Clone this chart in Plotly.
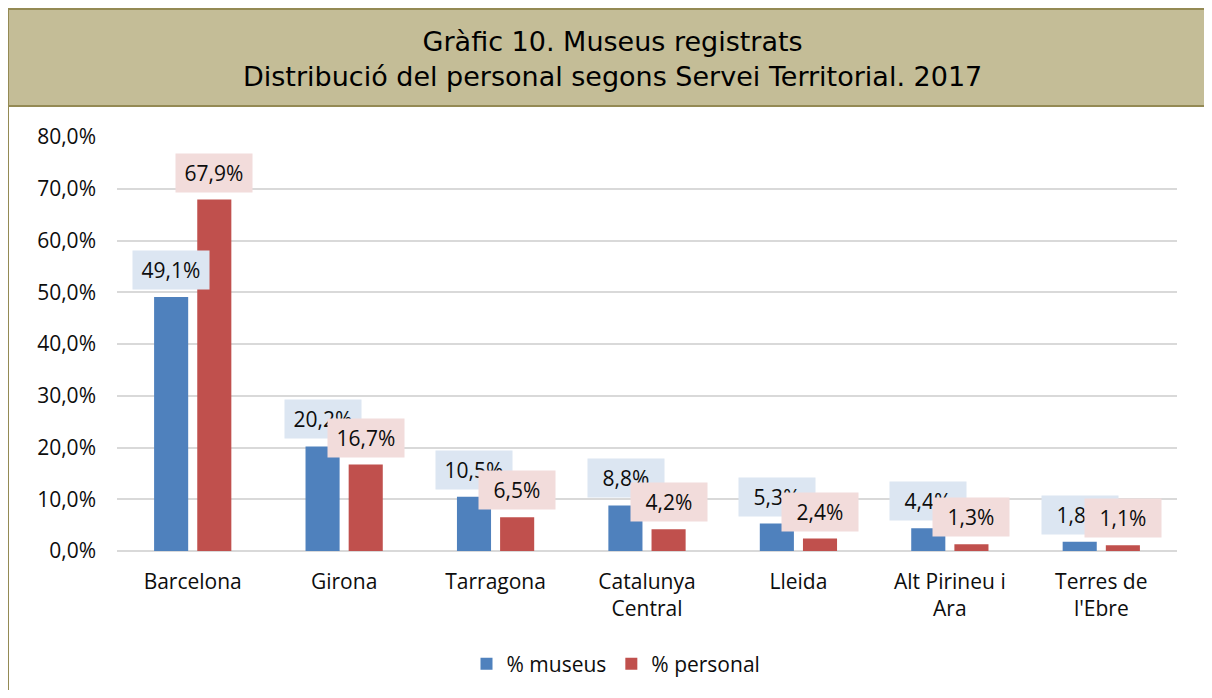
import plotly.graph_objects as go

categories = ["Barcelona", "Girona", "Tarragona", "Catalunya<br>Central", "Lleida", "Alt Pirineu i<br>Ara", "Terres de<br>l'Ebre"]
museus = [49.1, 20.2, 10.5, 8.8, 5.3, 4.4, 1.8]
personal = [67.9, 16.7, 6.5, 4.2, 2.4, 1.3, 1.1]
series_names = ["% museus", "% personal"]
title_lines = ["Gràfic 10. Museus registrats", "Distribució del personal segons Servei Territorial. 2017"]

BLUE = "#4F81BD"
RED = "#C0504D"
BLUE_BG = "#DCE6F2"
RED_BG = "#F2DCDB"
FRAME = "#948A54"
FILL = "#C4BD97"
FONT = "Open Sans"
TXT = "#0d0d0d"
FS = 21

OFF = 8  # page body margin
W, H = 1196, 682
L, R, T, B = 117 - OFF, 27, 137 - OFF, 139
pw, ph = W - L - R, H - T - B

def px_x(p):
    return (p - OFF - L) / pw

def px_y(p):
    return (H - B - (p - OFF)) / ph

fig = go.Figure()
fig.add_trace(go.Bar(x=categories, y=museus, name=series_names[0], marker=dict(color=BLUE, line=dict(width=0))))
fig.add_trace(go.Bar(x=categories, y=personal, name=series_names[1], marker=dict(color=RED, line=dict(width=0))))

def fmt(v):
    return f"{v:.1f}".replace(".", ",") + "%"

annotations = []
for vals, bg, shift in ((museus, BLUE_BG, -21.5), (personal, RED_BG, 21.5)):
    for c, v in zip(categories, vals):
        annotations.append(dict(
            x=c, y=v, xref="x", yref="y", text=fmt(v), showarrow=False,
            xshift=shift, yshift=7, yanchor="bottom", xanchor="center",
            bgcolor=bg, width=70, height=32, borderpad=3,
            font=dict(family=FONT, size=FS, color=TXT),
        ))

annotations.append(dict(
    x=px_x(612), y=px_y(59), xref="paper", yref="paper",
    text="<br>".join(title_lines), showarrow=False, xanchor="center", yanchor="middle",
    font=dict(family="DejaVu Sans", size=27, color="#000000"),
))

shapes = [
    dict(type="rect", xref="paper", yref="paper",
         x0=px_x(8), x1=px_x(1225), y0=px_y(106), y1=px_y(9),
         fillcolor=FILL, line=dict(color=FRAME, width=2), layer="below"),
    dict(type="line", xref="paper", yref="paper",
         x0=px_x(8), x1=px_x(8), y0=px_y(106), y1=px_y(710),
         line=dict(color=FRAME, width=2)),
]

fig.update_layout(
    width=W, height=H,
    margin=dict(l=L, r=R, t=T, b=B, pad=0, autoexpand=False),
    paper_bgcolor="white", plot_bgcolor="white",
    separators=",.",
    barmode="group", bargap=0.43, bargroupgap=0.21,
    font=dict(family=FONT, size=FS, color=TXT),
    showlegend=True,
    legend=dict(orientation="h", x=px_x(616), xanchor="center", y=px_y(664), yanchor="middle",
                font=dict(family=FONT, size=FS, color=TXT), itemwidth=30,
                traceorder="normal"),
    annotations=annotations,
    shapes=shapes,
)
fig.update_yaxes(range=[0, 80], dtick=10, tickformat=".1f", ticksuffix="%",
                 showgrid=True, gridcolor="#D9D9D9", gridwidth=2,
                 zeroline=True, zerolinecolor="#D9D9D9", zerolinewidth=2,
                 showline=False, ticks="", ticklabelstandoff=20, automargin=False,
                 tickfont=dict(family=FONT, size=FS, color=TXT))
fig.update_xaxes(showgrid=False, showline=False, ticks="", ticklabelstandoff=16, automargin=False,
                 tickfont=dict(family=FONT, size=FS, color=TXT))

fig.write_html("out.html")
